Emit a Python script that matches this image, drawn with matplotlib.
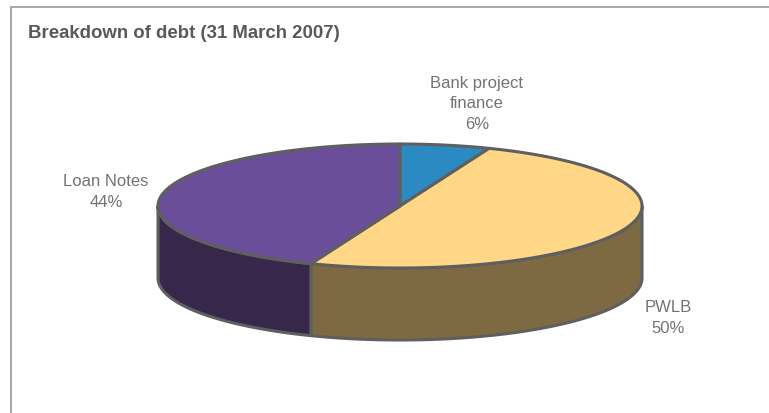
import matplotlib

matplotlib.use("Agg")

import matplotlib.patches
import matplotlib.pyplot as plt
import numpy as np

# data
labels = ["Bank project\nfinance", "PWLB", "Loan Notes"]
shares = [6, 50, 44]
top_colors = ["#2A8AC1", "#FFD786", "#6B4E9A"]
side_colors = ["#1F5F85", "#7E6A42", "#37284B"]
title = "Breakdown of debt (31 March 2007)"

# pie geometry in pixel space
cx, cy = 400, 207
rx, ry = 242, 62
depth = 72
edge = "#5F5F5F"
lw = 2.2


def ellipse_pts(a0, a1, n=200):
    t = np.radians(np.linspace(a0, a1, n))
    return cx + rx * np.cos(t), cy - ry * np.sin(t)


fig = plt.figure(figsize=(7.69, 4.14), dpi=100)
ax = fig.add_axes([0, 0, 1, 1])
ax.set_xlim(0, 769)
ax.set_ylim(414, 0)
ax.axis("off")

# slice angles: start at 12 o'clock, go clockwise
total = sum(shares)
bounds = []
start = 90.0
for s in shares:
    end = start - 360.0 * s / total
    bounds.append((end, start))
    start = end

# side walls (front half only, angles between 180 and 360)
for (a0, a1), col in zip(bounds, side_colors):
    for shift in (0, 360, -360):
        lo = max(a0 + shift, 180)
        hi = min(a1 + shift, 360)
        if hi <= lo:
            continue
        x, y = ellipse_pts(lo, hi)
        xs = np.concatenate([x, x[::-1]])
        ys = np.concatenate([y, y[::-1] + depth])
        ax.add_patch(matplotlib.patches.Polygon(
            np.column_stack([xs, ys]), closed=True, facecolor=col,
            edgecolor=edge, linewidth=lw, joinstyle="round"))

# top faces
for (a0, a1), col in zip(bounds, top_colors):
    x, y = ellipse_pts(a0, a1)
    xs = np.concatenate([[cx], x])
    ys = np.concatenate([[cy], y])
    ax.add_patch(matplotlib.patches.Polygon(
        np.column_stack([xs, ys]), closed=True, facecolor=col,
        edgecolor=edge, linewidth=lw, joinstyle="round"))

# labels
label_pos = [(477, 104), (668, 318), (106, 192)]
for lab, s, (lx, ly) in zip(labels, shares, label_pos):
    ax.text(lx, ly, f"{lab}\n{s}%", ha="center", va="center",
            fontsize=12, color="#737373", family="Liberation Sans",
            linespacing=1.45)

ax.text(28, 34, title, ha="left", va="center", fontsize=13.4,
        fontweight="bold", color="#595959", family="Liberation Sans")

# frame
ax.plot([10.5, 10.5, 800], [420, 8, 8], color="#A0A0A0", lw=1.3,
        clip_on=False, solid_joinstyle="miter")

fig.savefig("out.png", dpi=100)
